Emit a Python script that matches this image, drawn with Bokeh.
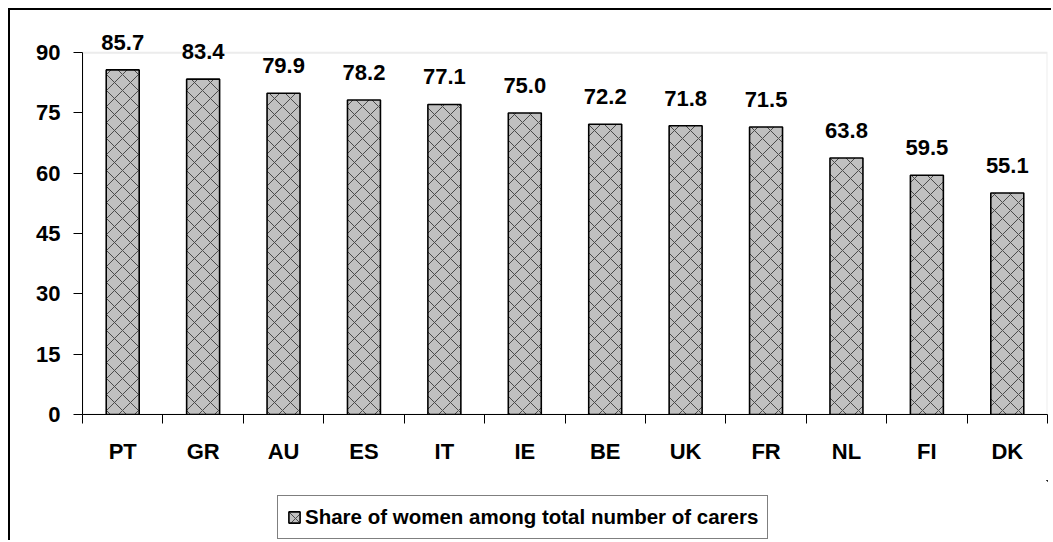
from bokeh.plotting import figure
from bokeh.layouts import column
from bokeh.models import (FixedTicker, LabelSet, ColumnDataSource, Range1d,
                          Legend, LegendItem, BoxAnnotation)
from bokeh.core.properties import value
from bokeh.embed import file_html
from bokeh.resources import INLINE

categories = ["PT", "GR", "AU", "ES", "IT", "IE", "BE", "UK", "FR", "NL", "FI", "DK"]
shares = [85.7, 83.4, 79.9, 78.2, 77.1, 75.0, 72.2, 71.8, 71.5, 63.8, 59.5, 55.1]
y_ticks = [0, 15, 30, 45, 60, 75, 90]
series_name = "Share of women among total number of carers"

FONT = "Liberation Sans"
BAR_STYLE = dict(fill_color="#c0c0c0", line_color="black", line_width=1.6,
                 hatch_pattern="diagonal_cross", hatch_color="#4a4a4a",
                 hatch_scale=16, hatch_weight=1)

xpos = [i + 0.5 for i in range(len(categories))]
boundaries = list(range(len(categories) + 1))

source = ColumnDataSource(dict(
    x=xpos,
    share=shares,
    label=[f"{v:.1f}" for v in shares],
))

p = figure(
    width=1041, height=470,
    x_range=Range1d(0, len(categories)), y_range=Range1d(y_ticks[0], 96),
    output_backend="svg", toolbar_location=None,
    min_border_left=72, min_border_right=4, min_border_top=18, min_border_bottom=66,
)
p.background_fill_color = "white"
p.border_fill_color = "white"
p.outline_line_color = None
p.xgrid.visible = False
p.ygrid.visible = False

# light grey plot-area border (top and right)
p.add_layout(BoxAnnotation(left=0, right=len(categories), bottom=y_ticks[0], top=y_ticks[-1],
                           fill_alpha=0, line_color="#c0c0c0", line_width=2, level="underlay"))

bars = p.vbar(x="x", top="share", width=0.41, source=source, **BAR_STYLE)

labels = LabelSet(
    x="x", y="share", text="label", source=source,
    text_align="center", text_baseline="alphabetic", y_offset=20,
    text_font=value(FONT), text_font_style="bold", text_font_size="22px", text_color="black",
)
p.add_layout(labels)

# Y axis
p.yaxis.ticker = FixedTicker(ticks=y_ticks)
p.yaxis.bounds = (y_ticks[0], y_ticks[-1])
p.yaxis.axis_line_color = "black"
p.yaxis.major_tick_line_color = "black"
p.yaxis.major_tick_in = 0
p.yaxis.major_tick_out = 9
p.yaxis.minor_tick_in = 0
p.yaxis.minor_tick_out = 0
p.yaxis.major_label_standoff = 13
p.yaxis.major_label_text_font = FONT
p.yaxis.major_label_text_font_style = "bold"
p.yaxis.major_label_text_font_size = "22px"
p.yaxis.major_label_text_color = "black"

# X axis: labels at centers, ticks at boundaries (minor ticks)
p.xaxis.ticker = FixedTicker(ticks=xpos, minor_ticks=boundaries)
p.xaxis.major_label_overrides = {x: c for x, c in zip(xpos, categories)}
p.xaxis.axis_line_color = "black"
p.xaxis.major_tick_in = 0
p.xaxis.major_tick_out = 0
p.xaxis.minor_tick_in = 0
p.xaxis.minor_tick_out = 9
p.xaxis.minor_tick_line_color = "black"
p.xaxis.major_label_standoff = 15
p.xaxis.major_label_text_font = FONT
p.xaxis.major_label_text_font_style = "bold"
p.xaxis.major_label_text_font_size = "22px"
p.xaxis.major_label_text_color = "black"

# Legend strip (separate canvas so the legend is not clipped by the plot frame);
# its ranges lie far away from the data so the bars themselves stay out of view.
pl = figure(
    width=1041, height=60, x_range=Range1d(-1001, -1000), y_range=Range1d(-1001, -1000),
    output_backend="svg", toolbar_location=None, x_axis_type=None, y_axis_type=None,
    min_border=0,
)
pl.outline_line_color = None
pl.xgrid.visible = False
pl.ygrid.visible = False
pl.background_fill_color = "white"
pl.border_fill_color = "white"
legend_bars = pl.vbar(x="x", top="share", width=0.41, source=source, **BAR_STYLE)

lg = Legend(items=[LegendItem(label=series_name, renderers=[legend_bars])])
lg.location = (195, 1)
lg.border_line_color = "black"
lg.border_line_width = 1
lg.background_fill_color = "white"
lg.background_fill_alpha = 1
lg.padding = 9
lg.margin = 0
lg.spacing = 0
lg.glyph_width = 14
lg.glyph_height = 14
lg.label_standoff = 4
lg.label_text_font = FONT
lg.label_text_font_style = "bold"
lg.label_text_font_size = "20.5px"
lg.label_text_color = "black"
pl.add_layout(lg, "center")

layout = column(p, pl, spacing=0,
                styles={"margin-left": "8px", "margin-top": "8px",
                        "border-left": "2px solid black", "border-top": "2px solid black"})

open("out.html", "w").write(file_html(layout, INLINE))
